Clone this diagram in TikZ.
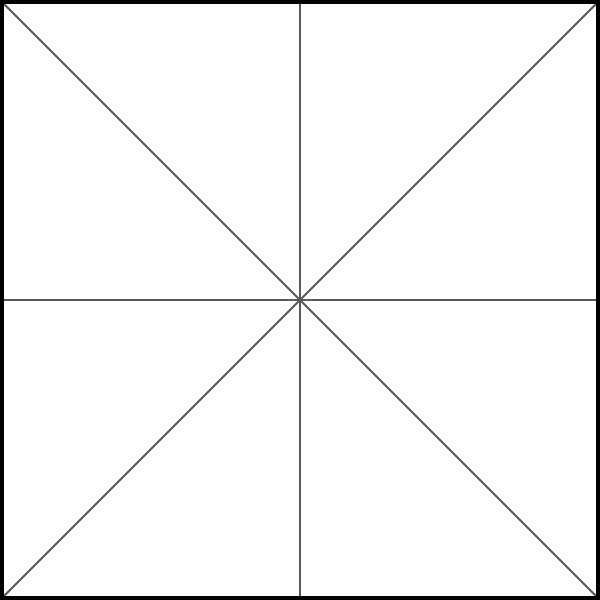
\documentclass[tikz,border=0pt]{standalone}
\usepackage{tikz}
\usetikzlibrary{calc,positioning}

\begin{document}
\begin{tikzpicture}[frame/.style={draw=black,line width=2pt},guide/.style={draw=black!65,line width=0.6pt}]
	% corners and midpoints
	\coordinate (sw) at (0,0);
	\coordinate (se) at (6,0);
	\coordinate (ne) at (6,6);
	\coordinate (nw) at (0,6);
	\coordinate (c) at (3,3);
	\coordinate (n) at (3,6);
	\coordinate (s) at (3,0);
	\coordinate (w) at (0,3);
	\coordinate (e) at (6,3);
	\useasboundingbox (sw) rectangle (ne);

	% diagonals and midlines
	\draw[guide] (sw) -- (ne);
	\draw[guide] (nw) -- (se);
	\draw[guide] (n) -- (s);
	\draw[guide] (w) -- (e);

	% outer square
	\draw[frame] (sw) rectangle (ne);
\end{tikzpicture}
\end{document}
